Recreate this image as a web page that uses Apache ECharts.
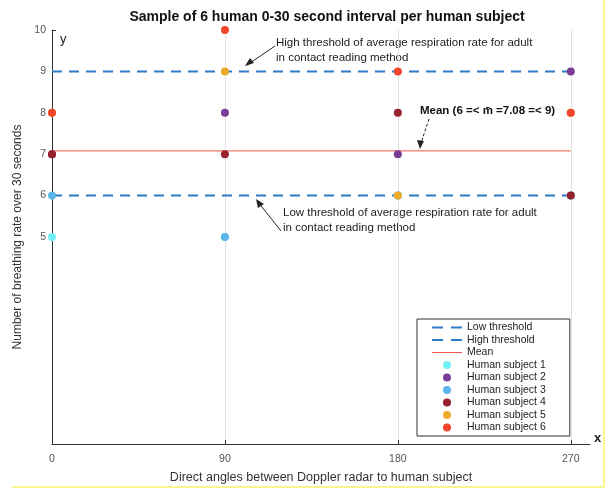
<!DOCTYPE html>
<html><head><meta charset="utf-8">
<script src="https://cdn.jsdelivr.net/npm/echarts@6/dist/echarts.min.js"></script>
<style>html,body{margin:0;padding:0;background:#fff}#c{width:613px;height:489px}</style>
</head><body><div id="c"></div>
<script>
const angles = [0, 90, 180, 270];
const subject1 = [5, 5, 6, 6];
const subject2 = [7, 8, 7, 9];
const subject3 = [6, 5, 6, 6];
const subject4 = [7, 7, 8, 6];
const subject5 = [8, 9, 6, 8];
const subject6 = [8, 10, 9, 8];
const lowThreshold = 6;
const highThreshold = 9;
const meanValue = 7.08;
const xTicks = [0, 90, 180, 270];
const yTicks = [5, 6, 7, 8, 9, 10];
const subjectNames = ['Human subject 1','Human subject 2','Human subject 3','Human subject 4','Human subject 5','Human subject 6'];
const subjectColors = ['#72f2f6','#7a3d97','#5cb6ea','#96222e','#eeaa2a','#f2452c'];
const subjects = [subject1, subject2, subject3, subject4, subject5, subject6];

const chart = echarts.init(document.getElementById('c'));
const font = 'Liberation Sans, Arial, sans-serif';
const hline = (name, v, color, type, width) => ({
  name, type: 'line', data: [[angles[0], v], [angles[angles.length-1], v]],
  symbol: 'none', showSymbol: false, lineStyle: { color, type, width }, itemStyle: { color }, z: 2, silent: true
});
const series = [
  hline('Low threshold', lowThreshold, '#2c7bc6', [10, 7], 2),
  hline('High threshold', highThreshold, '#2c7bc6', [10, 7], 2),
  hline('Mean', meanValue, '#f2574a', 'solid', 1),
];
subjects.forEach((s, i) => {
  series.push({
    name: subjectNames[i], type: 'scatter', symbolSize: 8,
    data: s.map((v, j) => [angles[j], v]),
    itemStyle: { color: subjectColors[i], opacity: 1 }, z: 5, clip: false
  });
});

const legendData = [
  { name: 'Low threshold', itemStyle: { opacity: 0 }, lineStyle: { type: [11, 8], width: 2, color: '#2c7bc6' } },
  { name: 'High threshold', itemStyle: { opacity: 0 }, lineStyle: { type: [11, 8], width: 2, color: '#2c7bc6' } },
  { name: 'Mean', itemStyle: { opacity: 0 }, lineStyle: { type: 'solid', width: 1, color: '#f2574a' } }
].concat(subjectNames.map(n => ({ name: n, icon: 'circle' })));

chart.setOption({
  animation: false,
  textStyle: { fontFamily: font },
  title: { text: 'Sample of 6 human 0-30 second interval per human subject', left: 322, textAlign: 'center', top: 5,
    textStyle: { fontSize: 14, fontWeight: 'bold', color: '#111', fontFamily: font } },
  grid: { left: 52, top: 30, width: 538, height: 418 },
  xAxis: {
    type: 'value', min: 0, max: 280,
    name: 'Direct angles between Doppler radar to human subject', nameLocation: 'middle', nameGap: 27,
    nameTextStyle: { fontSize: 12.5, color: '#333' },
    axisLine: { lineStyle: { color: '#333', width: 1 } },
    axisTick: { inside: true, length: 4, customValues: xTicks, lineStyle: { color: '#333' } },
    axisLabel: { customValues: xTicks, fontSize: 10.5, color: '#555', margin: 10 },
    splitLine: { show: true, lineStyle: { color: '#e2e2e2', width: 1 } },
  },
  yAxis: {
    type: 'value', min: 0, max: 10,
    name: 'Number of breathing rate over 30 seconds', nameLocation: 'middle', nameGap: 26,
    nameTextStyle: { fontSize: 12, color: '#333' },
    axisLine: { show: true, lineStyle: { color: '#333', width: 1 } },
    axisTick: { show: true, inside: true, length: 4, customValues: yTicks, lineStyle: { color: '#333' } },
    axisLabel: { customValues: yTicks, fontSize: 10.5, color: '#555', margin: 6 },
    splitLine: { show: false },
  },
  legend: {
    orient: 'vertical', left: 417, top: 319,
    backgroundColor: '#fff', borderColor: '#333', borderWidth: 1, borderRadius: 0,
    padding: [3, 24, 3, 14], itemGap: 1.5, itemWidth: 30, itemHeight: 8,
    textStyle: { fontSize: 10.5, lineHeight: 11, color: '#222' },
    data: legendData
  },
  series,
  graphic: [
    { type: 'text', left: 60, top: 33, style: { text: 'y', fontSize: 13, fill: '#222', fontFamily: font } },
    { type: 'text', left: 594, top: 432, style: { text: 'x', fontSize: 13, fontWeight: 'bold', fill: '#222', fontFamily: font } },
    { type: 'text', left: 276, top: 35, style: { text: 'High threshold of average respiration rate for adult\nin contact reading method', fontSize: 11.5, lineHeight: 15, fill: '#222', fontFamily: font } },
    { type: 'line', shape: { x1: 275, y1: 46, x2: 247, y2: 65 }, style: { stroke: '#222', lineWidth: 1 } },
    { type: 'polygon', shape: { points: [[245, 66], [250, 58], [254, 63]] }, style: { fill: '#222' } },
    { type: 'text', left: 283, top: 205, style: { text: 'Low threshold of average respiration rate for adult\nin contact reading method', fontSize: 11.5, lineHeight: 15, fill: '#222', fontFamily: font } },
    { type: 'line', shape: { x1: 281, y1: 231, x2: 258, y2: 202 }, style: { stroke: '#222', lineWidth: 1 } },
    { type: 'polygon', shape: { points: [[256, 199], [258, 208], [264, 204]] }, style: { fill: '#222' } },
    { type: 'text', left: 420, top: 105, style: { text: 'Mean (6 =< m\u0304 =7.08 =< 9)', fontSize: 11.5, fontWeight: 'bold', fill: '#111', fontFamily: font } },
    { type: 'line', shape: { x1: 429, y1: 119, x2: 421, y2: 143 }, style: { stroke: '#222', lineWidth: 1, lineDash: [3, 2] } },
    { type: 'polygon', shape: { points: [[420, 149], [417, 140], [424, 141]] }, style: { fill: '#222' } },
    { type: 'line', shape: { x1: 604, y1: 0, x2: 604, y2: 487 }, style: { stroke: '#f6f36a', lineWidth: 1.5 } },
    { type: 'line', shape: { x1: 12, y1: 487, x2: 604, y2: 487 }, style: { stroke: '#f6f36a', lineWidth: 1.5 } }
  ]
});
</script></body></html>
